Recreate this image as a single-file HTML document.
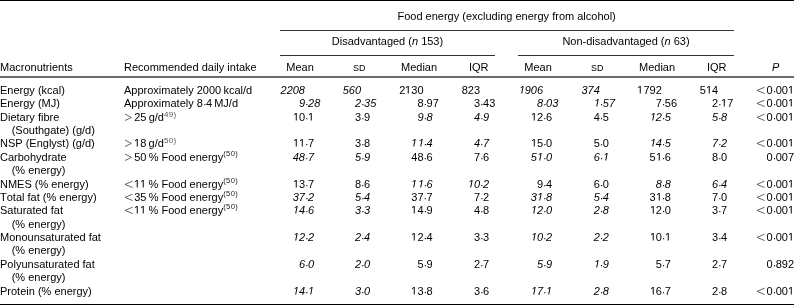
<!DOCTYPE html>
<html><head><meta charset="utf-8"><style>
html,body{margin:0;padding:0;background:#fff;}
body{width:794px;height:305px;position:relative;overflow:hidden;filter:grayscale(1);font-family:"Liberation Sans",sans-serif;font-size:11px;line-height:13px;color:#000;font-kerning:none;}
div{position:absolute;white-space:nowrap;}
.ln{position:absolute;display:block;}
.sc{font-size:9px;}
.it{font-style:italic;}
.sup{font-size:7.6px;letter-spacing:0.35px;vertical-align:baseline;position:relative;top:-5px;color:#222;}
.sym{position:absolute;}
.sup2{font-size:8px;top:-4px;color:#555;}
.o1{display:inline;vertical-align:baseline;fill:currentColor;}
.dt{position:relative;top:1px;margin-right:-0.66px;}
</style></head><body>
<svg width="0" height="0" style="position:absolute"><defs><path id="or" d="M515 0V-1237L197 -1010V-1180L530 -1409H696V0Z"/><path id="oi" d="M412 0L650 -1223L289 -1000L324 -1180L701 -1409H867L593 0Z"/></defs></svg>
<i class="ln" style="left:0px;width:794px;top:0px;height:1px;background:#000"></i>
<i class="ln" style="left:280px;width:454px;top:30px;height:1px;background:#333"></i>
<i class="ln" style="left:280px;width:215px;top:55px;height:1px;background:#333"></i>
<i class="ln" style="left:518px;width:216px;top:55px;height:1px;background:#333"></i>
<i class="ln" style="left:0px;width:794px;top:76px;height:2px;background:#6a6a6a"></i>
<i class="ln" style="left:0px;width:794px;top:304px;height:1px;background:#000"></i>
<div style="left:506.6px;transform:translateX(-50%);top:10px;">Food energy (excluding energy from alcohol)</div>
<div style="left:387.5px;transform:translateX(-50%);top:35px;">Disadvantaged (<i>n</i> 153)</div>
<div style="left:626px;transform:translateX(-50%);top:35px;">Non-disadvantaged (<i>n</i> 63)</div>
<div style="left:0px;top:61px;">Macronutrients</div>
<div style="left:124px;top:61px;">Recommended daily intake</div>
<div style="left:286.3px;top:61px;">Mean</div>
<div style="left:353px;top:61px;"><span class="sc">SD</span></div>
<div style="left:401px;top:61px;">Median</div>
<div style="left:469px;top:61px;">IQR</div>
<div style="left:524.3px;top:61px;">Mean</div>
<div style="left:591px;top:61px;"><span class="sc">SD</span></div>
<div style="left:639px;top:61px;">Median</div>
<div style="left:707px;top:61px;">IQR</div>
<div style="left:772px;top:61px;"><i>P</i></div>
<div style="left:0px;top:84px;">Energy (kcal)</div>
<div style="left:124px;top:84px;">Approximately 2000&thinsp;kcal/d</div>
<div class="it" style="right:489.0px;top:84px;">2208</div>
<div class="it" style="right:433.0px;top:84px;">560</div>
<div style="right:370.4px;top:84px;">2<svg class="o1" width="6.117" height="7.627" viewBox="0 -1420 1139 1420"><use href="#or"/></svg>30</div>
<div style="right:314.0px;top:84px;">823</div>
<div class="it" style="right:251.0px;top:84px;"><svg class="o1" width="6.117" height="7.627" viewBox="0 -1420 1139 1420"><use href="#oi"/></svg>906</div>
<div class="it" style="right:194.20000000000005px;top:84px;">374</div>
<div style="right:132.20000000000005px;top:84px;"><svg class="o1" width="6.117" height="7.627" viewBox="0 -1420 1139 1420"><use href="#or"/></svg>792</div>
<div style="right:76.0px;top:84px;">5<svg class="o1" width="6.117" height="7.627" viewBox="0 -1420 1139 1420"><use href="#or"/></svg>4</div>
<svg class="sym" style="left:755.9px;top:85px" width="10" height="10"><polyline points="8.50,2.20 1.00,5.40 8.60,8.55" fill="none" stroke="#333" stroke-width="0.75"/></svg>
<div style="right:0px;top:84px;">0<span class="dt">·</span>00<svg class="o1" width="6.117" height="7.627" viewBox="0 -1420 1139 1420"><use href="#or"/></svg></div>
<div style="left:0px;top:97px;">Energy (MJ)</div>
<div style="left:124px;top:97px;">Approximately 8<span class="dt">·</span>4&thinsp;MJ/d</div>
<div class="it" style="right:489.0px;top:97px;">9</div>
<div class="it" style="left:305.0px;top:97px;"><span class="dt">·</span>28</div>
<div class="it" style="right:433.0px;top:97px;">2</div>
<div class="it" style="left:361.0px;top:97px;"><span class="dt">·</span>35</div>
<div style="right:370.4px;top:97px;">8</div>
<div style="left:423.6px;top:97px;"><span class="dt">·</span>97</div>
<div style="right:314.0px;top:97px;">3</div>
<div style="left:480.0px;top:97px;"><span class="dt">·</span>43</div>
<div class="it" style="right:251.0px;top:97px;">8</div>
<div class="it" style="left:543.0px;top:97px;"><span class="dt">·</span>03</div>
<div class="it" style="right:194.20000000000005px;top:97px;"><svg class="o1" width="6.117" height="7.627" viewBox="0 -1420 1139 1420"><use href="#oi"/></svg></div>
<div class="it" style="left:599.8px;top:97px;"><span class="dt">·</span>57</div>
<div style="right:132.20000000000005px;top:97px;">7</div>
<div style="left:661.8px;top:97px;"><span class="dt">·</span>56</div>
<div style="right:76.0px;top:97px;">2</div>
<div style="left:718.0px;top:97px;"><span class="dt">·</span><svg class="o1" width="6.117" height="7.627" viewBox="0 -1420 1139 1420"><use href="#or"/></svg>7</div>
<svg class="sym" style="left:755.9px;top:98px" width="10" height="10"><polyline points="8.50,2.20 1.00,5.40 8.60,8.55" fill="none" stroke="#333" stroke-width="0.75"/></svg>
<div style="right:0px;top:97px;">0<span class="dt">·</span>00<svg class="o1" width="6.117" height="7.627" viewBox="0 -1420 1139 1420"><use href="#or"/></svg></div>
<div style="left:0px;top:111px;">Dietary fibre</div>
<div style="left:11.7px;top:124px;">(Southgate) (g/d)</div>
<svg class="sym" style="left:124.2px;top:112px" width="10" height="10"><polyline points="1.00,2.05 7.40,5.45 1.00,8.50" fill="none" stroke="#333" stroke-width="0.75"/></svg>
<div style="left:134.2px;top:111px;">25&thinsp;g/d<span class="sup sup2">49)</span></div>
<div style="right:489.0px;top:111px;"><svg class="o1" width="6.117" height="7.627" viewBox="0 -1420 1139 1420"><use href="#or"/></svg>0</div>
<div style="left:305.0px;top:111px;"><span class="dt">·</span><svg class="o1" width="6.117" height="7.627" viewBox="0 -1420 1139 1420"><use href="#or"/></svg></div>
<div style="right:433.0px;top:111px;">3</div>
<div style="left:361.0px;top:111px;"><span class="dt">·</span>9</div>
<div class="it" style="right:370.4px;top:111px;">9</div>
<div class="it" style="left:423.6px;top:111px;"><span class="dt">·</span>8</div>
<div class="it" style="right:314.0px;top:111px;">4</div>
<div class="it" style="left:480.0px;top:111px;"><span class="dt">·</span>9</div>
<div style="right:251.0px;top:111px;"><svg class="o1" width="6.117" height="7.627" viewBox="0 -1420 1139 1420"><use href="#or"/></svg>2</div>
<div style="left:543.0px;top:111px;"><span class="dt">·</span>6</div>
<div style="right:194.20000000000005px;top:111px;">4</div>
<div style="left:599.8px;top:111px;"><span class="dt">·</span>5</div>
<div class="it" style="right:132.20000000000005px;top:111px;"><svg class="o1" width="6.117" height="7.627" viewBox="0 -1420 1139 1420"><use href="#oi"/></svg>2</div>
<div class="it" style="left:661.8px;top:111px;"><span class="dt">·</span>5</div>
<div class="it" style="right:76.0px;top:111px;">5</div>
<div class="it" style="left:718.0px;top:111px;"><span class="dt">·</span>8</div>
<svg class="sym" style="left:755.9px;top:112px" width="10" height="10"><polyline points="8.50,2.20 1.00,5.40 8.60,8.55" fill="none" stroke="#333" stroke-width="0.75"/></svg>
<div style="right:0px;top:111px;">0<span class="dt">·</span>00<svg class="o1" width="6.117" height="7.627" viewBox="0 -1420 1139 1420"><use href="#or"/></svg></div>
<div style="left:0px;top:137px;">NSP (Englyst) (g/d)</div>
<svg class="sym" style="left:124.2px;top:138px" width="10" height="10"><polyline points="1.00,2.05 7.40,5.45 1.00,8.50" fill="none" stroke="#333" stroke-width="0.75"/></svg>
<div style="left:134.2px;top:137px;"><svg class="o1" width="6.117" height="7.627" viewBox="0 -1420 1139 1420"><use href="#or"/></svg>8&thinsp;g/d<span class="sup sup2">50)</span></div>
<div style="right:489.0px;top:137px;"><svg class="o1" width="6.117" height="7.627" viewBox="0 -1420 1139 1420"><use href="#or"/></svg><svg class="o1" width="6.117" height="7.627" viewBox="0 -1420 1139 1420"><use href="#or"/></svg></div>
<div style="left:305.0px;top:137px;"><span class="dt">·</span>7</div>
<div style="right:433.0px;top:137px;">3</div>
<div style="left:361.0px;top:137px;"><span class="dt">·</span>8</div>
<div class="it" style="right:370.4px;top:137px;"><svg class="o1" width="6.117" height="7.627" viewBox="0 -1420 1139 1420"><use href="#oi"/></svg><svg class="o1" width="6.117" height="7.627" viewBox="0 -1420 1139 1420"><use href="#oi"/></svg></div>
<div class="it" style="left:423.6px;top:137px;"><span class="dt">·</span>4</div>
<div class="it" style="right:314.0px;top:137px;">4</div>
<div class="it" style="left:480.0px;top:137px;"><span class="dt">·</span>7</div>
<div style="right:251.0px;top:137px;"><svg class="o1" width="6.117" height="7.627" viewBox="0 -1420 1139 1420"><use href="#or"/></svg>5</div>
<div style="left:543.0px;top:137px;"><span class="dt">·</span>0</div>
<div style="right:194.20000000000005px;top:137px;">5</div>
<div style="left:599.8px;top:137px;"><span class="dt">·</span>0</div>
<div class="it" style="right:132.20000000000005px;top:137px;"><svg class="o1" width="6.117" height="7.627" viewBox="0 -1420 1139 1420"><use href="#oi"/></svg>4</div>
<div class="it" style="left:661.8px;top:137px;"><span class="dt">·</span>5</div>
<div class="it" style="right:76.0px;top:137px;">7</div>
<div class="it" style="left:718.0px;top:137px;"><span class="dt">·</span>2</div>
<svg class="sym" style="left:755.9px;top:138px" width="10" height="10"><polyline points="8.50,2.20 1.00,5.40 8.60,8.55" fill="none" stroke="#333" stroke-width="0.75"/></svg>
<div style="right:0px;top:137px;">0<span class="dt">·</span>00<svg class="o1" width="6.117" height="7.627" viewBox="0 -1420 1139 1420"><use href="#or"/></svg></div>
<div style="left:0px;top:151px;">Carbohydrate</div>
<div style="left:11.7px;top:164px;">(% energy)</div>
<svg class="sym" style="left:124.2px;top:152px" width="10" height="10"><polyline points="1.00,2.05 7.40,5.45 1.00,8.50" fill="none" stroke="#333" stroke-width="0.75"/></svg>
<div style="left:134.2px;top:151px;">50&thinsp;% Food energy<span class="sup">(50)</span></div>
<div class="it" style="right:489.0px;top:151px;">48</div>
<div class="it" style="left:305.0px;top:151px;"><span class="dt">·</span>7</div>
<div class="it" style="right:433.0px;top:151px;">5</div>
<div class="it" style="left:361.0px;top:151px;"><span class="dt">·</span>9</div>
<div style="right:370.4px;top:151px;">48</div>
<div style="left:423.6px;top:151px;"><span class="dt">·</span>6</div>
<div style="right:314.0px;top:151px;">7</div>
<div style="left:480.0px;top:151px;"><span class="dt">·</span>6</div>
<div class="it" style="right:251.0px;top:151px;">5<svg class="o1" width="6.117" height="7.627" viewBox="0 -1420 1139 1420"><use href="#oi"/></svg></div>
<div class="it" style="left:543.0px;top:151px;"><span class="dt">·</span>0</div>
<div class="it" style="right:194.20000000000005px;top:151px;">6</div>
<div class="it" style="left:599.8px;top:151px;"><span class="dt">·</span><svg class="o1" width="6.117" height="7.627" viewBox="0 -1420 1139 1420"><use href="#oi"/></svg></div>
<div style="right:132.20000000000005px;top:151px;">5<svg class="o1" width="6.117" height="7.627" viewBox="0 -1420 1139 1420"><use href="#or"/></svg></div>
<div style="left:661.8px;top:151px;"><span class="dt">·</span>6</div>
<div style="right:76.0px;top:151px;">8</div>
<div style="left:718.0px;top:151px;"><span class="dt">·</span>0</div>
<div style="right:0px;top:151px;">0<span class="dt">·</span>007</div>
<div style="left:0px;top:178px;">NMES (% energy)</div>
<svg class="sym" style="left:124.2px;top:179px" width="10" height="10"><polyline points="8.50,2.20 1.00,5.40 8.60,8.55" fill="none" stroke="#333" stroke-width="0.75"/></svg>
<div style="left:134.2px;top:178px;"><svg class="o1" width="6.117" height="7.627" viewBox="0 -1420 1139 1420"><use href="#or"/></svg><svg class="o1" width="6.117" height="7.627" viewBox="0 -1420 1139 1420"><use href="#or"/></svg>&thinsp;% Food energy<span class="sup">(50)</span></div>
<div style="right:489.0px;top:178px;"><svg class="o1" width="6.117" height="7.627" viewBox="0 -1420 1139 1420"><use href="#or"/></svg>3</div>
<div style="left:305.0px;top:178px;"><span class="dt">·</span>7</div>
<div style="right:433.0px;top:178px;">8</div>
<div style="left:361.0px;top:178px;"><span class="dt">·</span>6</div>
<div class="it" style="right:370.4px;top:178px;"><svg class="o1" width="6.117" height="7.627" viewBox="0 -1420 1139 1420"><use href="#oi"/></svg><svg class="o1" width="6.117" height="7.627" viewBox="0 -1420 1139 1420"><use href="#oi"/></svg></div>
<div class="it" style="left:423.6px;top:178px;"><span class="dt">·</span>6</div>
<div class="it" style="right:314.0px;top:178px;"><svg class="o1" width="6.117" height="7.627" viewBox="0 -1420 1139 1420"><use href="#oi"/></svg>0</div>
<div class="it" style="left:480.0px;top:178px;"><span class="dt">·</span>2</div>
<div style="right:251.0px;top:178px;">9</div>
<div style="left:543.0px;top:178px;"><span class="dt">·</span>4</div>
<div style="right:194.20000000000005px;top:178px;">6</div>
<div style="left:599.8px;top:178px;"><span class="dt">·</span>0</div>
<div class="it" style="right:132.20000000000005px;top:178px;">8</div>
<div class="it" style="left:661.8px;top:178px;"><span class="dt">·</span>8</div>
<div class="it" style="right:76.0px;top:178px;">6</div>
<div class="it" style="left:718.0px;top:178px;"><span class="dt">·</span>4</div>
<svg class="sym" style="left:755.9px;top:179px" width="10" height="10"><polyline points="8.50,2.20 1.00,5.40 8.60,8.55" fill="none" stroke="#333" stroke-width="0.75"/></svg>
<div style="right:0px;top:178px;">0<span class="dt">·</span>00<svg class="o1" width="6.117" height="7.627" viewBox="0 -1420 1139 1420"><use href="#or"/></svg></div>
<div style="left:0px;top:191px;">Total fat (% energy)</div>
<svg class="sym" style="left:124.2px;top:192px" width="10" height="10"><polyline points="8.50,2.20 1.00,5.40 8.60,8.55" fill="none" stroke="#333" stroke-width="0.75"/></svg>
<div style="left:134.2px;top:191px;">35&thinsp;% Food energy<span class="sup">(50)</span></div>
<div class="it" style="right:489.0px;top:191px;">37</div>
<div class="it" style="left:305.0px;top:191px;"><span class="dt">·</span>2</div>
<div class="it" style="right:433.0px;top:191px;">5</div>
<div class="it" style="left:361.0px;top:191px;"><span class="dt">·</span>4</div>
<div style="right:370.4px;top:191px;">37</div>
<div style="left:423.6px;top:191px;"><span class="dt">·</span>7</div>
<div style="right:314.0px;top:191px;">7</div>
<div style="left:480.0px;top:191px;"><span class="dt">·</span>2</div>
<div class="it" style="right:251.0px;top:191px;">3<svg class="o1" width="6.117" height="7.627" viewBox="0 -1420 1139 1420"><use href="#oi"/></svg></div>
<div class="it" style="left:543.0px;top:191px;"><span class="dt">·</span>8</div>
<div class="it" style="right:194.20000000000005px;top:191px;">5</div>
<div class="it" style="left:599.8px;top:191px;"><span class="dt">·</span>4</div>
<div style="right:132.20000000000005px;top:191px;">3<svg class="o1" width="6.117" height="7.627" viewBox="0 -1420 1139 1420"><use href="#or"/></svg></div>
<div style="left:661.8px;top:191px;"><span class="dt">·</span>8</div>
<div style="right:76.0px;top:191px;">7</div>
<div style="left:718.0px;top:191px;"><span class="dt">·</span>0</div>
<svg class="sym" style="left:755.9px;top:192px" width="10" height="10"><polyline points="8.50,2.20 1.00,5.40 8.60,8.55" fill="none" stroke="#333" stroke-width="0.75"/></svg>
<div style="right:0px;top:191px;">0<span class="dt">·</span>00<svg class="o1" width="6.117" height="7.627" viewBox="0 -1420 1139 1420"><use href="#or"/></svg></div>
<div style="left:0px;top:204px;">Saturated fat</div>
<div style="left:11.7px;top:218px;">(% energy)</div>
<svg class="sym" style="left:124.2px;top:205px" width="10" height="10"><polyline points="8.50,2.20 1.00,5.40 8.60,8.55" fill="none" stroke="#333" stroke-width="0.75"/></svg>
<div style="left:134.2px;top:204px;"><svg class="o1" width="6.117" height="7.627" viewBox="0 -1420 1139 1420"><use href="#or"/></svg><svg class="o1" width="6.117" height="7.627" viewBox="0 -1420 1139 1420"><use href="#or"/></svg>&thinsp;% Food energy<span class="sup">(50)</span></div>
<div class="it" style="right:489.0px;top:204px;"><svg class="o1" width="6.117" height="7.627" viewBox="0 -1420 1139 1420"><use href="#oi"/></svg>4</div>
<div class="it" style="left:305.0px;top:204px;"><span class="dt">·</span>6</div>
<div class="it" style="right:433.0px;top:204px;">3</div>
<div class="it" style="left:361.0px;top:204px;"><span class="dt">·</span>3</div>
<div style="right:370.4px;top:204px;"><svg class="o1" width="6.117" height="7.627" viewBox="0 -1420 1139 1420"><use href="#or"/></svg>4</div>
<div style="left:423.6px;top:204px;"><span class="dt">·</span>9</div>
<div style="right:314.0px;top:204px;">4</div>
<div style="left:480.0px;top:204px;"><span class="dt">·</span>8</div>
<div class="it" style="right:251.0px;top:204px;"><svg class="o1" width="6.117" height="7.627" viewBox="0 -1420 1139 1420"><use href="#oi"/></svg>2</div>
<div class="it" style="left:543.0px;top:204px;"><span class="dt">·</span>0</div>
<div class="it" style="right:194.20000000000005px;top:204px;">2</div>
<div class="it" style="left:599.8px;top:204px;"><span class="dt">·</span>8</div>
<div style="right:132.20000000000005px;top:204px;"><svg class="o1" width="6.117" height="7.627" viewBox="0 -1420 1139 1420"><use href="#or"/></svg>2</div>
<div style="left:661.8px;top:204px;"><span class="dt">·</span>0</div>
<div style="right:76.0px;top:204px;">3</div>
<div style="left:718.0px;top:204px;"><span class="dt">·</span>7</div>
<svg class="sym" style="left:755.9px;top:205px" width="10" height="10"><polyline points="8.50,2.20 1.00,5.40 8.60,8.55" fill="none" stroke="#333" stroke-width="0.75"/></svg>
<div style="right:0px;top:204px;">0<span class="dt">·</span>00<svg class="o1" width="6.117" height="7.627" viewBox="0 -1420 1139 1420"><use href="#or"/></svg></div>
<div style="left:0px;top:231px;">Monounsaturated fat</div>
<div style="left:11.7px;top:244px;">(% energy)</div>
<div class="it" style="right:489.0px;top:231px;"><svg class="o1" width="6.117" height="7.627" viewBox="0 -1420 1139 1420"><use href="#oi"/></svg>2</div>
<div class="it" style="left:305.0px;top:231px;"><span class="dt">·</span>2</div>
<div class="it" style="right:433.0px;top:231px;">2</div>
<div class="it" style="left:361.0px;top:231px;"><span class="dt">·</span>4</div>
<div style="right:370.4px;top:231px;"><svg class="o1" width="6.117" height="7.627" viewBox="0 -1420 1139 1420"><use href="#or"/></svg>2</div>
<div style="left:423.6px;top:231px;"><span class="dt">·</span>4</div>
<div style="right:314.0px;top:231px;">3</div>
<div style="left:480.0px;top:231px;"><span class="dt">·</span>3</div>
<div class="it" style="right:251.0px;top:231px;"><svg class="o1" width="6.117" height="7.627" viewBox="0 -1420 1139 1420"><use href="#oi"/></svg>0</div>
<div class="it" style="left:543.0px;top:231px;"><span class="dt">·</span>2</div>
<div class="it" style="right:194.20000000000005px;top:231px;">2</div>
<div class="it" style="left:599.8px;top:231px;"><span class="dt">·</span>2</div>
<div style="right:132.20000000000005px;top:231px;"><svg class="o1" width="6.117" height="7.627" viewBox="0 -1420 1139 1420"><use href="#or"/></svg>0</div>
<div style="left:661.8px;top:231px;"><span class="dt">·</span><svg class="o1" width="6.117" height="7.627" viewBox="0 -1420 1139 1420"><use href="#or"/></svg></div>
<div style="right:76.0px;top:231px;">3</div>
<div style="left:718.0px;top:231px;"><span class="dt">·</span>4</div>
<svg class="sym" style="left:755.9px;top:232px" width="10" height="10"><polyline points="8.50,2.20 1.00,5.40 8.60,8.55" fill="none" stroke="#333" stroke-width="0.75"/></svg>
<div style="right:0px;top:231px;">0<span class="dt">·</span>00<svg class="o1" width="6.117" height="7.627" viewBox="0 -1420 1139 1420"><use href="#or"/></svg></div>
<div style="left:0px;top:258px;">Polyunsaturated fat</div>
<div style="left:11.7px;top:271px;">(% energy)</div>
<div class="it" style="right:489.0px;top:258px;">6</div>
<div class="it" style="left:305.0px;top:258px;"><span class="dt">·</span>0</div>
<div class="it" style="right:433.0px;top:258px;">2</div>
<div class="it" style="left:361.0px;top:258px;"><span class="dt">·</span>0</div>
<div style="right:370.4px;top:258px;">5</div>
<div style="left:423.6px;top:258px;"><span class="dt">·</span>9</div>
<div style="right:314.0px;top:258px;">2</div>
<div style="left:480.0px;top:258px;"><span class="dt">·</span>7</div>
<div class="it" style="right:251.0px;top:258px;">5</div>
<div class="it" style="left:543.0px;top:258px;"><span class="dt">·</span>9</div>
<div class="it" style="right:194.20000000000005px;top:258px;"><svg class="o1" width="6.117" height="7.627" viewBox="0 -1420 1139 1420"><use href="#oi"/></svg></div>
<div class="it" style="left:599.8px;top:258px;"><span class="dt">·</span>9</div>
<div style="right:132.20000000000005px;top:258px;">5</div>
<div style="left:661.8px;top:258px;"><span class="dt">·</span>7</div>
<div style="right:76.0px;top:258px;">2</div>
<div style="left:718.0px;top:258px;"><span class="dt">·</span>7</div>
<div style="right:0px;top:258px;">0<span class="dt">·</span>892</div>
<div style="left:0px;top:285px;">Protein (% energy)</div>
<div class="it" style="right:489.0px;top:285px;"><svg class="o1" width="6.117" height="7.627" viewBox="0 -1420 1139 1420"><use href="#oi"/></svg>4</div>
<div class="it" style="left:305.0px;top:285px;"><span class="dt">·</span><svg class="o1" width="6.117" height="7.627" viewBox="0 -1420 1139 1420"><use href="#oi"/></svg></div>
<div class="it" style="right:433.0px;top:285px;">3</div>
<div class="it" style="left:361.0px;top:285px;"><span class="dt">·</span>0</div>
<div style="right:370.4px;top:285px;"><svg class="o1" width="6.117" height="7.627" viewBox="0 -1420 1139 1420"><use href="#or"/></svg>3</div>
<div style="left:423.6px;top:285px;"><span class="dt">·</span>8</div>
<div style="right:314.0px;top:285px;">3</div>
<div style="left:480.0px;top:285px;"><span class="dt">·</span>6</div>
<div class="it" style="right:251.0px;top:285px;"><svg class="o1" width="6.117" height="7.627" viewBox="0 -1420 1139 1420"><use href="#oi"/></svg>7</div>
<div class="it" style="left:543.0px;top:285px;"><span class="dt">·</span><svg class="o1" width="6.117" height="7.627" viewBox="0 -1420 1139 1420"><use href="#oi"/></svg></div>
<div class="it" style="right:194.20000000000005px;top:285px;">2</div>
<div class="it" style="left:599.8px;top:285px;"><span class="dt">·</span>8</div>
<div style="right:132.20000000000005px;top:285px;"><svg class="o1" width="6.117" height="7.627" viewBox="0 -1420 1139 1420"><use href="#or"/></svg>6</div>
<div style="left:661.8px;top:285px;"><span class="dt">·</span>7</div>
<div style="right:76.0px;top:285px;">2</div>
<div style="left:718.0px;top:285px;"><span class="dt">·</span>8</div>
<svg class="sym" style="left:755.9px;top:286px" width="10" height="10"><polyline points="8.50,2.20 1.00,5.40 8.60,8.55" fill="none" stroke="#333" stroke-width="0.75"/></svg>
<div style="right:0px;top:285px;">0<span class="dt">·</span>00<svg class="o1" width="6.117" height="7.627" viewBox="0 -1420 1139 1420"><use href="#or"/></svg></div>
</body></html>
